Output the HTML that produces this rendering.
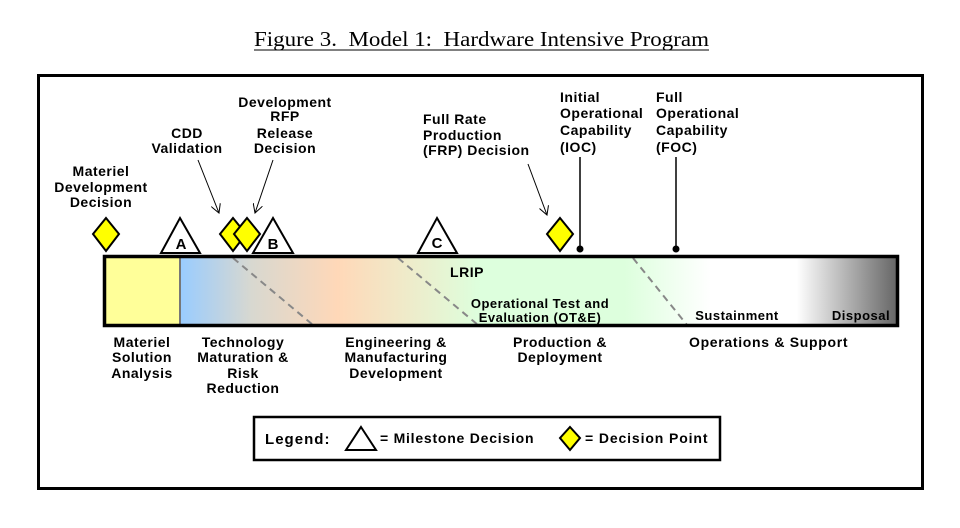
<!DOCTYPE html>
<html><head><meta charset="utf-8"><style>
html,body{margin:0;padding:0;background:#fff;width:960px;height:528px;overflow:hidden}
svg text{font-family:"Liberation Sans",Arial,sans-serif;font-weight:bold;font-size:14px;letter-spacing:0.5px;fill:#000}
</style></head><body>
<svg width="960" height="528" viewBox="0 0 960 528" xmlns="http://www.w3.org/2000/svg">
<defs>
<linearGradient id="g" x1="180" y1="0" x2="897" y2="0" gradientUnits="userSpaceOnUse">
<stop offset="0" stop-color="#99ccff"/>
<stop offset="0.1" stop-color="#d8d8d0"/>
<stop offset="0.22" stop-color="#ffd8b8"/>
<stop offset="0.42" stop-color="#ddffdd"/>
<stop offset="0.62" stop-color="#ddffdd"/>
<stop offset="0.74" stop-color="#ffffff"/>
<stop offset="0.86" stop-color="#ffffff"/>
<stop offset="1" stop-color="#666666"/>
</linearGradient>
<marker id="ah" markerWidth="10" markerHeight="10" refX="9" refY="5" orient="auto" markerUnits="userSpaceOnUse">
<path d="M0,0 L9,5 L0,10" fill="none" stroke="#000" stroke-width="1"/>
</marker>
</defs>
<text x="254" y="46" textLength="455" lengthAdjust="spacingAndGlyphs" style="font-family:'Liberation Serif',serif;font-weight:normal;font-size:21px;letter-spacing:0">Figure 3.&#160; Model 1:&#160; Hardware Intensive Program</text>
<line x1="254" y1="50" x2="709" y2="50" stroke="#000" stroke-width="1"/>
<rect x="38.5" y="75.5" width="884" height="413" fill="none" stroke="#000" stroke-width="3"/>

<rect x="180" y="257" width="717" height="68" fill="url(#g)"/>
<rect x="105" y="257" width="75" height="68" fill="#ffff99"/>
<line x1="180" y1="257" x2="180" y2="325" stroke="#777" stroke-width="2"/>
<g stroke="#888" stroke-width="2" stroke-dasharray="7,5">
<line x1="233" y1="258" x2="313" y2="325"/>
<line x1="398" y1="258" x2="478" y2="325"/>
<line x1="633" y1="258" x2="687" y2="325"/>
</g>
<rect x="104.5" y="256.5" width="793" height="69" fill="none" stroke="#000" stroke-width="3.5"/>

<text text-anchor="middle"><tspan x="101" y="176">Materiel</tspan><tspan x="101" y="192">Development</tspan><tspan x="101" y="207">Decision</tspan></text>
<text text-anchor="middle"><tspan x="187" y="138">CDD</tspan><tspan x="187" y="153">Validation</tspan></text>
<text text-anchor="middle"><tspan x="285" y="107">Development</tspan><tspan x="285" y="121">RFP</tspan><tspan x="285" y="138">Release</tspan><tspan x="285" y="153">Decision</tspan></text>
<text><tspan x="423" y="124">Full Rate</tspan><tspan x="423" y="140">Production</tspan><tspan x="423" y="155">(FRP) Decision</tspan></text>
<text><tspan x="560" y="102">Initial</tspan><tspan x="560" y="118">Operational</tspan><tspan x="560" y="135">Capability</tspan><tspan x="560" y="152">(IOC)</tspan></text>
<text><tspan x="656" y="102">Full</tspan><tspan x="656" y="118">Operational</tspan><tspan x="656" y="135">Capability</tspan><tspan x="656" y="152">(FOC)</tspan></text>

<g stroke="#000" stroke-width="1" fill="none">
<line x1="198" y1="160" x2="219" y2="213" marker-end="url(#ah)"/>
<line x1="273" y1="160" x2="255" y2="213" marker-end="url(#ah)"/>
<line x1="528" y1="164" x2="547" y2="215" marker-end="url(#ah)"/>
</g>
<line x1="580" y1="157" x2="580" y2="249" stroke="#000" stroke-width="1.5"/>
<circle cx="580" cy="249" r="3.5" fill="#000"/>
<line x1="676" y1="157" x2="676" y2="249" stroke="#000" stroke-width="1.5"/>
<circle cx="676" cy="249" r="3.5" fill="#000"/>

<g fill="#ffff00" stroke="#000" stroke-width="2">
<polygon points="106,218 119,234 106,251 93,234"/>
<polygon points="233,218 246,234 233,251 220,234"/>
<polygon points="247,218 260,234 247,251 234,234"/>
<polygon points="560,218 573,234 560,251 547,234"/>
</g>
<g fill="#fff" stroke="#000" stroke-width="2">
<polygon points="180,218 200,253 161,253"/>
<polygon points="273,218 293,253 253,253"/>
<polygon points="437,218 457,253 418,253"/>
</g>
<text x="181" y="249" text-anchor="middle" style="font-size:15px;letter-spacing:0">A</text>
<text x="273" y="249" text-anchor="middle" style="font-size:15px;letter-spacing:0">B</text>
<text x="437" y="248" text-anchor="middle" style="font-size:15px;letter-spacing:0">C</text>

<text x="467" y="277" text-anchor="middle">LRIP</text>
<text text-anchor="middle" style="font-size:13px"><tspan x="540" y="308">Operational Test and</tspan><tspan x="540" y="322">Evaluation (OT&amp;E)</tspan></text>
<text x="737" y="320" text-anchor="middle" style="font-size:13px">Sustainment</text>
<text x="861" y="320" text-anchor="middle" style="font-size:13px">Disposal</text>

<text text-anchor="middle"><tspan x="142" y="347">Materiel</tspan><tspan x="142" y="362">Solution</tspan><tspan x="142" y="378">Analysis</tspan></text>
<text text-anchor="middle"><tspan x="243" y="347">Technology</tspan><tspan x="243" y="362">Maturation &amp;</tspan><tspan x="243" y="378">Risk</tspan><tspan x="243" y="393">Reduction</tspan></text>
<text text-anchor="middle"><tspan x="396" y="347">Engineering &amp;</tspan><tspan x="396" y="362">Manufacturing</tspan><tspan x="396" y="378">Development</tspan></text>
<text text-anchor="middle"><tspan x="560" y="347">Production &amp;</tspan><tspan x="560" y="362">Deployment</tspan></text>
<text x="689" y="347" textLength="159">Operations &amp; Support</text>

<rect x="254" y="417" width="466" height="43" fill="#fff" stroke="#000" stroke-width="2.5"/>
<text x="265" y="444" textLength="65" style="font-size:15px">Legend:</text>
<polygon points="361,427 376,450 346,450" fill="#fff" stroke="#000" stroke-width="2"/>
<text x="380" y="443" textLength="154">=  Milestone Decision</text>
<polygon points="570,427 580,438 570,450 560,438" fill="#ffff00" stroke="#000" stroke-width="2"/>
<text x="585" y="443" textLength="123">=  Decision Point</text>
</svg>
</body></html>
